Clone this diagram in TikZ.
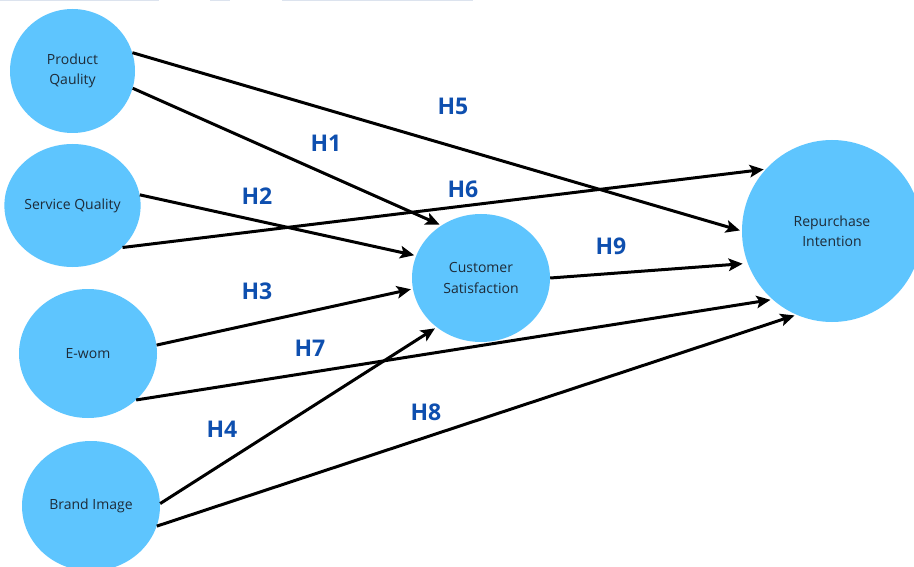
\documentclass[tikz,border=0pt]{standalone}
\usepackage{fontspec}
\setmainfont{Open Sans}
\usetikzlibrary{arrows.meta,shapes.geometric}
\definecolor{bub}{HTML}{5EC5FE}
\definecolor{hlab}{HTML}{0E4FAF}
\definecolor{ntext}{HTML}{1E2B38}
\definecolor{topart}{HTML}{DCE3EE}
\begin{document}
\begin{tikzpicture}[x=1pt,y=-1pt,
  bubble/.style={ellipse, fill=bub, inner sep=0pt, align=center, text=ntext,
    font=\fontsize{14}{20.5}\selectfont},
  conn/.style={line width=3pt, -{Stealth[length=14pt,width=12.5pt,inset=3pt]}, shorten >=2pt},
  hlabel/.style={text=hlab, font=\fontsize{23}{23}\selectfont\bfseries, inner sep=0pt}]
\useasboundingbox (0,0) rectangle (914,567);
\clip (0,0) rectangle (914,567);
\fill[white] (0,0) rectangle (914,567);
% faint strip at top edge
\fill[topart] (0,0) rectangle (159,1.5);
\fill[topart] (210,0) rectangle (230,1.5);
\fill[topart] (282,0) rectangle (473,1.5);
% nodes
\node[bubble, minimum width=125pt, minimum height=124pt] (pq) at (72.5,71) {Product\\Qaulity};
\node[bubble, minimum width=125pt, minimum height=123pt] (sq) at (72.5,205.5) {Service Quality};
\node[bubble, minimum width=138pt, minimum height=129pt] (ew) at (88,353.5) {E-wom};
\node[bubble, minimum width=138pt, minimum height=130pt] (bi) at (91,506) {Brand Image};
\node[bubble, minimum width=138pt, minimum height=128pt] (cs) at (481,278) {Customer\\Satisfaction};
\node[bubble, minimum width=180pt, minimum height=182pt] (ri) at (832,231) {Repurchase\\Intention};
% connectors
\draw[conn] (pq.17) -- (ri.180);   % H5
\draw[conn] (pq.-16) -- (cs.127);  % H1
\draw[conn] (sq.9) -- (cs.161);    % H2
\draw[conn] (sq.-40) -- (ri.137);  % H6
\draw[conn] (ew.7) -- (cs.189);    % H3
\draw[conn] (ew.-44) -- (ri.229);  % H7
\draw[conn] (bi.2) -- (cs.228);    % H4
\draw[conn] (bi.-17) -- (ri.247);  % H8
\draw[conn, shorten >=5pt] (cs.0) -- (ri.201); % H9
% labels
\node[hlabel] (h1) at (326,143) {H1};
\node[hlabel] (h2) at (257,196) {H2};
\node[hlabel] (h3) at (257,291) {H3};
\node[hlabel] (h4) at (222,429) {H4};
\node[hlabel] (h5) at (453,106) {H5};
\node[hlabel] (h6) at (463,189) {H6};
\node[hlabel] (h7) at (310,348) {H7};
\node[hlabel] (h8) at (426,412) {H8};
\node[hlabel] (h9) at (611,246) {H9};
\end{tikzpicture}
\end{document}
